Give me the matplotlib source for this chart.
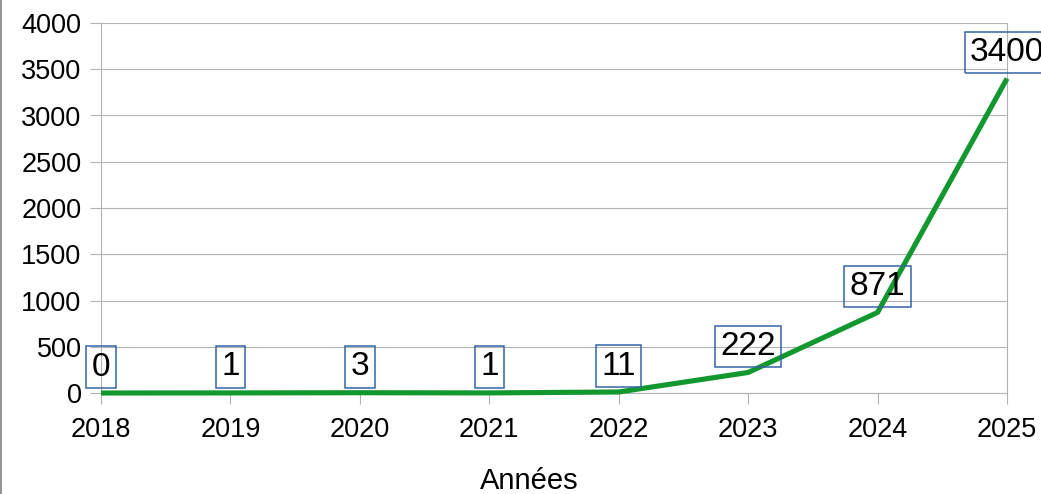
import matplotlib
matplotlib.use("Agg")
import matplotlib.pyplot as plt
from matplotlib.lines import Line2D

years = ["2018", "2019", "2020", "2021", "2022", "2023", "2024", "2025"]
values = [0, 1, 3, 1, 11, 222, 871, 3400]
y_ticks = [0, 500, 1000, 1500, 2000, 2500, 3000, 3500, 4000]
x_title = "Années"

plt.rcParams['font.family'] = ['Liberation Sans', 'DejaVu Sans']

W, H = 1041, 494
fig = plt.figure(figsize=(W / 100, H / 100), dpi=100)
ax = fig.add_axes([101 / W, 1 - 393 / H, (1007 - 101) / W, (393 - 23) / H])

x = list(range(len(years)))
ax.plot(x, values, color='#12982f', lw=3.7, solid_capstyle='butt', zorder=3, clip_on=False)

ax.set_xlim(0, len(years) - 1)
ax.set_ylim(0, 4000)
ax.set_yticks(y_ticks)
ax.set_yticklabels([str(v) for v in y_ticks])
ax.set_xticks(x)
ax.set_xticklabels(years)
ax.grid(axis='y', color='#b3b3b3', lw=0.8)
ax.set_axisbelow(True)
ax.spines['top'].set_visible(False)
for s in ['left', 'right', 'bottom']:
    ax.spines[s].set_color('#b3b3b3')
    ax.spines[s].set_linewidth(0.8)
ax.tick_params(axis='both', colors='#b3b3b3', length=8, width=0.8, labelcolor='black', labelsize=19.5)
ax.tick_params(axis='y', pad=6)
ax.tick_params(axis='x', pad=9)

fig.text(529.5 / W, 1 - 481 / H, x_title, fontsize=21, ha='center', va='center')

for xi, v in zip(x, values):
    ax.annotate(str(v), (xi, v), xytext=(0, 7.5), textcoords='offset points',
                ha='center', va='bottom', fontsize=24, color='black',
                bbox=dict(boxstyle='square,pad=0.16', fc='none', ec='#3465a4', lw=1.1),
                annotation_clip=False, zorder=4)

fig.add_artist(Line2D([0.6 / W, 0.6 / W], [0, 1], transform=fig.transFigure, color='#808080', lw=1.2))

fig.savefig("out.png", dpi=100)
